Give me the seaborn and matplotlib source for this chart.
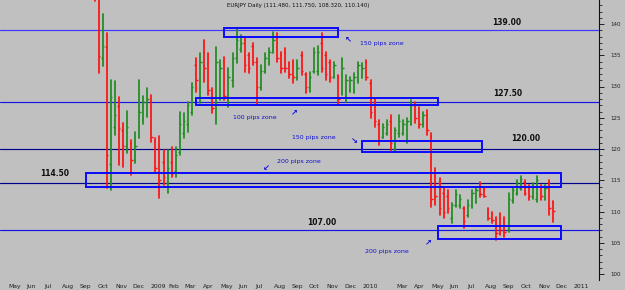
import numpy as np
import pandas as pd
import matplotlib
matplotlib.use("Agg")
import matplotlib.pyplot as plt
import matplotlib.dates as mdates
import matplotlib.transforms as mtrans
from matplotlib.patches import Rectangle
import seaborn as sns

#%% weekly EURJPY bars (monday dates)
weeks = pd.date_range("2008-09-29", periods=114, freq="7D")

opens = [151.0, 144.5, 134.5, 136.3, 117.6, 123.5, 126.9, 123.0, 120.5, 121.0,
         118.2, 122.0, 125.0, 125.5, 127.5, 121.5, 120.5, 118.0, 114.5, 118.0,
         116.5, 119.5, 122.5, 124.0, 126.0, 133.5, 130.0, 135.5, 134.0, 129.0,
         126.0, 129.0, 134.0, 127.5, 131.0, 134.5, 136.0, 137.0, 135.0, 136.5,
         134.0, 130.0, 132.5, 134.0, 135.5, 138.0, 135.0, 135.5, 133.5, 133.5,
         131.5, 135.0, 132.0, 130.0, 132.5, 132.5, 137.0, 135.0, 134.0, 131.5,
         131.5, 129.0, 128.5, 129.5, 129.5, 131.0, 131.5, 134.0, 130.5, 127.5,
         124.0, 122.0, 122.5, 124.5, 120.0, 122.5, 122.5, 121.5, 124.0, 127.0,
         126.0, 124.0, 125.5, 122.0, 115.5, 114.5, 113.0, 112.5, 109.0, 111.0,
         111.0, 110.5, 109.5, 111.0, 111.5, 114.0, 113.5, 110.5, 109.8, 108.8,
         109.0, 108.5, 107.0, 111.8, 113.0, 113.8, 114.8, 114.0, 112.5, 112.0,
         114.0, 112.0, 114.5, 111.48]
highs = [152.0, 145.5, 141.6, 138.6, 131.0, 130.9, 128.3, 124.2, 126.1, 121.4,
         122.7, 131.0, 128.5, 129.8, 128.6, 121.7, 122.1, 119.8, 119.8, 120.3,
         120.3, 125.9, 125.7, 127.5, 130.6, 134.6, 135.4, 137.4, 135.4, 129.8,
         136.3, 134.2, 134.7, 133.0, 135.4, 139.2, 138.2, 137.8, 135.4, 137.0,
         134.6, 133.5, 135.4, 136.2, 138.7, 138.6, 135.5, 136.2, 133.9, 134.2,
         134.2, 135.5, 132.2, 132.3, 136.2, 136.5, 138.6, 135.5, 134.2, 134.0,
         131.8, 134.6, 131.8, 131.5, 132.2, 133.9, 133.8, 134.2, 131.0, 128.0,
         124.6, 124.0, 124.6, 125.4, 123.4, 125.4, 124.6, 125.0, 127.8, 127.5,
         126.7, 126.0, 126.2, 122.6, 116.9, 115.4, 113.8, 113.5, 111.4, 113.4,
         112.6, 110.7, 111.8, 113.4, 113.8, 114.7, 114.0, 110.6, 110.0, 109.1,
         109.7, 109.1, 113.0, 113.8, 115.0, 115.7, 115.0, 114.2, 114.5, 115.7,
         114.2, 114.2, 115.0, 111.75]
lows = [143.7, 132.2, 133.3, 113.8, 113.4, 122.2, 117.4, 117.1, 119.4, 115.8,
        117.7, 121.7, 124.0, 125.1, 121.1, 116.2, 112.2, 114.2, 112.9, 115.5,
        115.5, 119.0, 121.7, 122.7, 125.4, 129.1, 127.4, 130.7, 128.6, 125.8,
        124.0, 127.8, 127.8, 126.7, 129.9, 133.8, 135.5, 132.3, 132.2, 133.4,
        127.0, 129.5, 132.2, 133.5, 135.4, 133.9, 132.2, 132.3, 131.4, 130.6,
        131.0, 131.8, 129.0, 129.1, 132.2, 131.8, 132.3, 131.0, 130.7, 131.4,
        127.0, 128.6, 127.5, 129.1, 129.0, 130.6, 131.4, 131.0, 125.0, 123.5,
        120.6, 121.7, 122.2, 119.5, 119.5, 121.9, 122.2, 121.0, 123.8, 124.2,
        123.4, 123.5, 122.2, 110.7, 111.0, 109.4, 109.0, 109.8, 108.2, 110.7,
        110.5, 107.4, 109.1, 110.5, 111.4, 112.3, 112.3, 108.6, 108.2, 105.5,
        106.2, 106.0, 106.7, 111.4, 112.6, 113.4, 112.6, 111.8, 112.0, 111.5,
        111.8, 111.8, 109.4, 108.32]
closes = [144.5, 134.9, 136.5, 119.0, 128.3, 125.4, 123.4, 120.5, 123.5, 118.2,
          120.5, 126.0, 127.5, 128.0, 122.0, 117.0, 115.0, 115.5, 117.0, 116.0,
          119.0, 124.0, 124.5, 127.0, 130.0, 131.0, 134.0, 133.0, 129.5, 126.5,
          134.0, 133.0, 128.5, 131.5, 134.5, 137.5, 137.0, 133.5, 133.0, 134.0,
          130.0, 132.5, 134.5, 135.5, 137.5, 134.5, 133.0, 133.0, 132.0, 131.5,
          133.0, 132.5, 130.0, 131.5, 135.5, 135.5, 133.0, 132.0, 131.5, 133.5,
          128.0, 133.0, 131.0, 131.0, 131.5, 133.5, 133.0, 131.5, 126.0, 124.5,
          121.5, 123.5, 124.0, 121.0, 123.0, 124.5, 124.0, 124.5, 127.0, 125.0,
          124.0, 125.5, 123.0, 112.0, 112.5, 110.5, 110.0, 110.5, 111.0, 112.8,
          112.0, 108.5, 111.0, 113.0, 113.5, 112.8, 112.5, 109.0, 108.6, 106.5,
          107.0, 106.8, 112.0, 113.5, 114.6, 115.2, 113.0, 112.5, 114.0, 115.0,
          112.5, 113.8, 110.5, 110.14]

# support / resistance levels
levels = [139.0, 127.5, 120.0, 114.5, 107.0]
level_colors = ["#3a3aff", "#1515e8", "#00008c", "#00008c", "#1515e8"]
level_texts = ["139.00", "127.50", "120.00", "114.50", "107.00"]
level_text_dates = ["2010-09-10", "2010-09-12", "2010-10-13", "2008-07-23", "2009-10-26"]
level_text_prices = [140.3, 128.95, 121.75, 116.15, 108.3]

# pip zones (boxes)
zone_starts = ["2009-05-10", "2009-03-23", "2010-01-03", "2008-09-14", "2010-05-15"]
zone_ends = ["2009-11-23", "2010-05-14", "2010-07-30", "2010-12-12", "2010-12-12"]
zone_lows = [137.92, 127.12, 119.6, 114.0, 105.55]
zone_highs = [139.36, 128.08, 121.2, 116.1, 107.7]

notes = ["150 pips zone", "100 pips zone", "150 pips zone", "200 pips zone", "200 pips zone"]
note_dates = ["2009-12-30", "2009-05-25", "2009-09-04", "2009-08-09", "2010-01-08"]
note_prices = [136.96, 125.12, 121.92, 118.08, 103.68]
arrows = ["\u2196", "\u2197", "\u2198", "\u2199", "\u2197"]
arrow_dates = ["2009-12-10", "2009-09-09", "2009-12-22", "2009-07-23", "2010-04-27"]
arrow_prices = [137.6, 125.9, 121.3, 116.96, 105.12]

month_starts = pd.date_range("2008-05-01", "2011-01-01", freq="MS")
month_labels = ["May", "Jun", "Jul", "Aug", "Sep", "Oct", "Nov", "Dec",
                "2009", "Feb", "Mar", "Apr", "May", "Jun", "Jul", "Aug", "Sep", "Oct", "Nov", "Dec",
                "2010", "", "Mar", "Apr", "May", "Jun", "Jul", "Aug", "Sep", "Oct", "Nov", "Dec",
                "2011"]

GREY = "#c0c0c0"
GREEN = "#1e8c1e"
RED = "#ff1010"
BLUE = "#0a0aff"

sns.set_style("white", {"axes.facecolor": GREY, "figure.facecolor": GREY})
plt.rcParams["font.family"] = ["DejaVu Sans"]

fig = plt.figure(figsize=(6.25, 2.9), dpi=100)
ax = fig.add_axes([0, 10 / 290, 599 / 625, 280 / 290])

#%% OHLC bars: high-low line through seaborn, open/close ticks
up = np.array(closes) >= np.array(opens)
bars = pd.DataFrame({
    "date": np.concatenate([weeks, weeks]),
    "price": np.concatenate([lows, highs]),
    "week": np.concatenate([np.arange(len(weeks))] * 2),
    "dir": np.concatenate([np.where(up, "up", "down")] * 2),
})
sns.lineplot(data=bars, x="date", y="price", units="week", estimator=None, hue="dir",
             palette={"up": GREEN, "down": RED}, linewidth=1.25, legend=False, sort=False, ax=ax)

xn = mdates.date2num(weeks)
cols = np.where(up, GREEN, RED)
ax.hlines(opens, xn - 2.6, xn, colors=cols, lw=1.0)
ax.hlines(closes, xn, xn + 2.6, colors=cols, lw=1.0)

for lv, c in zip(levels, level_colors):
    ax.axhline(lv, color=c, lw=0.85, zorder=1)

for s, e, lo, hi in zip(zone_starts, zone_ends, zone_lows, zone_highs):
    x0 = mdates.date2num(pd.Timestamp(s))
    x1 = mdates.date2num(pd.Timestamp(e))
    ax.add_patch(Rectangle((x0, lo), x1 - x0, hi - lo, fill=False, ec=BLUE, lw=1.4, zorder=4))

for t, d, p in zip(level_texts, level_text_dates, level_text_prices):
    ax.text(pd.Timestamp(d), p, t, ha="center", va="center", fontsize=5.5, fontweight="bold", color="#101010")

for t, d, p in zip(notes, note_dates, note_prices):
    ax.text(pd.Timestamp(d), p, t, ha="left", va="center", fontsize=4.5, color="#1010d0")

for t, d, p in zip(arrows, arrow_dates, arrow_prices):
    ax.text(pd.Timestamp(d), p, t, ha="center", va="center", fontsize=6, fontweight="bold", color="#1010e0")

ax.text(227 / 599, 1 - 5 / 280, "EURJPY Daily (111.480, 111.750, 108.320, 110.140)",
        transform=ax.transAxes, ha="left", va="center", fontsize=4.0, color="#101010")

#%% axes
ax.set_xlim(pd.Timestamp("2008-04-19"), pd.Timestamp("2011-02-16"))
ax.set_ylim(99.04, 143.84)
ax.set(xlabel="", ylabel="")

ax.set_xticks(month_starts)
ax.set_xticklabels(month_labels, ha="left", fontsize=4.4, color="#202020")
ax.xaxis.set_minor_locator(mdates.WeekdayLocator(byweekday=mdates.MO))
ax.tick_params(axis="x", which="major", direction="out", length=8, width=0.7, color="#303030", pad=-5.0)
ax.tick_params(axis="x", which="minor", direction="out", length=2, width=0.6, color="#303030")
shift = mtrans.ScaledTranslation(1.5 / 100, 0, fig.dpi_scale_trans)
for lab in ax.get_xticklabels():
    lab.set_transform(lab.get_transform() + shift)

ax.yaxis.tick_right()
ax.set_yticks(np.arange(100, 141, 5))
ax.set_yticklabels([str(v) for v in range(100, 141, 5)], fontsize=4.0, color="#202020")
ax.set_yticks(np.arange(100, 144, 1), minor=True)
ax.tick_params(axis="y", which="major", direction="out", length=3.5, width=0.7, color="#202020", pad=5)
ax.tick_params(axis="y", which="minor", direction="out", length=1.8, width=0.6, color="#202020")

for side in ["left", "top", "bottom"]:
    ax.spines[side].set_visible(False)
ax.spines["right"].set_color("#101010")
ax.spines["right"].set_linewidth(0.8)

plt.savefig("out.png", dpi=100, facecolor=GREY)
